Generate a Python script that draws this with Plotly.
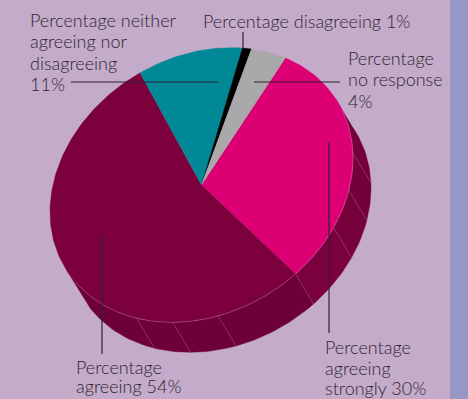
import math
import plotly.graph_objects as go

# Survey responses, clockwise from the top of the pink wedge
categories = ["agreeing strongly", "agreeing", "neither agreeing nor disagreeing", "disagreeing", "no response"]
values = [30, 54, 11, 1, 4]
colors = ["#dd0074", "#7b003c", "#008896", "#000000", "#a9a9ab"]

# Positions around the rim (percent) where the side wall changes facet
wall_breaks = [8, 15, 19.4, 23.8, 30, 38.9, 43.7, 47.7, 58]
wall_colors = ["#74003a", "#74003a", "#76003c", "#7a003e", "#6d0037", "#6d0037", "#6d0037", "#6d0037"]

# Tilted-disc projection of the pie, in page pixels
CX, CY = 201.5, 185
U = (84, -127)
V = (126.1, 52.3)
DEPTH = (18, 30)
BG, BAND, INK = "#c3abc9", "#9796c4", "#2f2633"


def rim(pct, shift=(0, 0)):
    a = math.radians(pct * 3.6)
    return (CX + U[0] * math.cos(a) + V[0] * math.sin(a) + shift[0],
            CY + U[1] * math.cos(a) + V[1] * math.sin(a) + shift[1])


def sweep(a, b, shift=(0, 0)):
    n = max(2, int(abs(b - a) * 3))
    return [rim(a + (b - a) * i / n, shift) for i in range(n + 1)]


def polygon(pts, fill):
    return go.Scatter(x=[p[0] for p in pts], y=[p[1] for p in pts], mode="lines", fill="toself",
                      fillcolor=fill, line=dict(width=0.4, color=fill), hoverinfo="skip", showlegend=False)


def stroke(pts, color, width):
    return go.Scatter(x=[p[0] for p in pts], y=[p[1] for p in pts], mode="lines",
                      line=dict(width=width, color=color), hoverinfo="skip", showlegend=False)


fig = go.Figure()

# Side wall
for a, b, c in zip(wall_breaks[:-1], wall_breaks[1:], wall_colors):
    fig.add_trace(polygon(sweep(a, b) + sweep(b, a, DEPTH), c))
for b in wall_breaks[1:-1]:
    fig.add_trace(stroke([rim(b), rim(b, DEPTH)], "rgba(225,180,210,0.35)", 0.5))

# Top face wedges
start = 0
for v, c in zip(values, colors):
    fig.add_trace(polygon([(CX, CY)] + sweep(start, start + v), c))
    start += v

# Pale highlight on the front of the rim
fig.add_trace(stroke(sweep(9.7, 56.3), "rgba(225,180,210,0.5)", 0.6))

# Leader lines
leaders = [
    ((71, 82), (218, 82)),
    ((254, 82), (340, 82)),
    ((243, 32), (243, 48)),
    ((329, 142), (329, 333)),
    ((102, 235), (102, 354)),
]
for p, q in leaders:
    fig.add_trace(stroke([p, q], "#2e2233", 1.2))

# Label text, one entry per line
labels = [
    ("Percentage neither", 30, 20),
    ("agreeing nor", 30, 41),
    ("disagreeing", 30, 63),
    ("11%", 30, 84),
    ("Percentage disagreeing 1%", 203, 21),
    ("Percentage", 348, 58),
    ("no response", 348, 79),
    ("4%", 348, 101),
    ("Percentage", 325, 347),
    ("agreeing", 325, 368),
    ("strongly 30%", 325, 388),
    ("Percentage", 76, 367),
    ("agreeing 54%", 76, 386),
]
for text, x, y in labels:
    fig.add_annotation(x=x, y=y, text=text, showarrow=False, xanchor="left", yanchor="middle",
                       font=dict(family="Lato", size=18, color=INK, weight=300), xshift=-2)

fig.update_layout(
    width=468, height=399, margin=dict(l=0, r=0, t=0, b=0),
    paper_bgcolor=BG, plot_bgcolor=BG, showlegend=False,
    xaxis=dict(range=[0, 468], visible=False, fixedrange=True),
    yaxis=dict(range=[399, 0], visible=False, fixedrange=True),
    shapes=[dict(type="rect", x0=450, x1=468, y0=0, y1=399, fillcolor=BAND, line_width=0, layer="below")],
)
fig.write_html("out.html", config={"displayModeBar": False})
